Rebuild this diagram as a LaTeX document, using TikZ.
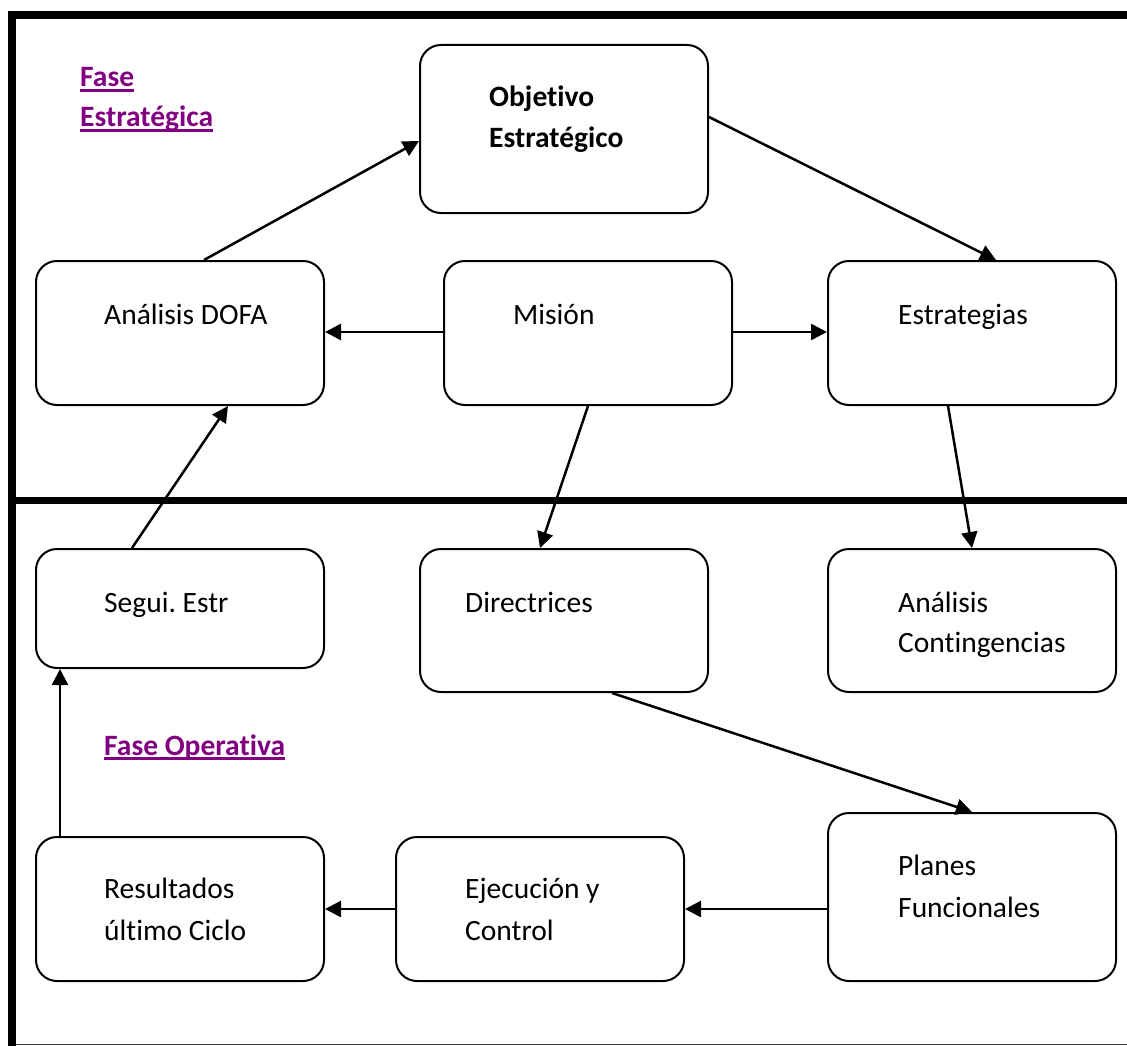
\documentclass[tikz,border=0pt]{standalone}
\usepackage{fontspec}
\setmainfont{Carlito}[Ligatures={NoCommon}]
\usetikzlibrary{arrows.meta}
\definecolor{fasecol}{HTML}{800080}
\frenchspacing
\begin{document}
\begin{tikzpicture}[x=1pt,y=-1pt,
  box/.style={draw=black, line width=2pt, rounded corners=21pt, inner sep=0pt},
  txt/.style={anchor=base west, inner sep=0pt, font=\fontsize{29.5}{41}\selectfont},
  btxt/.style={txt, font=\fontsize{29.5}{41}\selectfont\bfseries},
  fase/.style={anchor=base west, inner sep=0pt, text=fasecol, font=\fontsize{29.5}{41}\selectfont\bfseries},
  uline/.style={draw=fasecol, line width=2.2pt},
  arr/.style={draw=black, line width=2.5pt, -{Triangle[length=16pt,width=16pt]}}]
\useasboundingbox (0,0) rectangle (1127,1046);
% frame lines
\draw[line width=8pt, line join=miter] (12,1046) -- (12,15) -- (1127,15);
\draw[line width=7pt] (12,500.5) -- (1127,500.5);
\draw[draw=black!75, line width=1.2pt] (16,1044.5) -- (1127,1044.5);
% boxes
\node[box, minimum width=288pt, minimum height=168pt] (obj) at (564,129) {};
\node[box, minimum width=288pt, minimum height=144pt] (dofa) at (180,333) {};
\node[box, minimum width=288pt, minimum height=144pt] (mision) at (588,333) {};
\node[box, minimum width=288pt, minimum height=144pt] (estr) at (972,333) {};
\node[box, minimum width=288pt, minimum height=119pt] (segui) at (180,608.5) {};
\node[box, minimum width=288pt, minimum height=143pt] (direc) at (564,620.5) {};
\node[box, minimum width=288pt, minimum height=143pt] (conting) at (972,620.5) {};
\node[box, minimum width=288pt, minimum height=168pt] (planes) at (972,897) {};
\node[box, minimum width=288pt, minimum height=144pt] (ejec) at (540,909) {};
\node[box, minimum width=288pt, minimum height=144pt] (result) at (180,909) {};
% texts
\node[btxt] (t-obj1) at (489,107) {Objetivo};
\node[btxt] (t-obj2) at (489,148) {Estratégico};
\node[txt] (t-dofa) at (104,324) {Análisis DOFA};
\node[txt] (t-mision) at (513,324) {Misión};
\node[txt] (t-estr) at (898,324) {Estrategias};
\node[txt] (t-segui) at (104,612) {Segui. Estr};
\node[txt] (t-direc) at (465,612) {Directrices};
\node[txt] (t-cont1) at (898,612) {Análisis};
\node[txt] (t-cont2) at (898,652) {Contingencias};
\node[txt] (t-plan1) at (898,875) {Planes};
\node[txt] (t-plan2) at (898,917) {Funcionales};
\node[txt] (t-ejec1) at (465,898) {Ejecución y};
\node[txt] (t-ejec2) at (465,940) {Control};
\node[txt] (t-res1) at (104,898) {Resultados};
\node[txt] (t-res2) at (104,940) {último Ciclo};
% phase labels
\node[fase] (fe1) at (80,87) {Fase};
\node[fase] (fe2) at (80,127) {Estratégica};
\node[fase] (fo) at (104,755) {Fase Operativa};
\draw[uline] ([yshift=-3.5pt]fe1.base west) -- ([yshift=-3.5pt]fe1.base east);
\draw[uline] ([yshift=-3.5pt]fe2.base west) -- ([yshift=-3.5pt]fe2.base east);
\draw[uline] ([yshift=-3.5pt]fo.base west) -- ([yshift=-3.5pt]fo.base east);
% connectors
\draw[arr] ([xshift=24pt]dofa.north) -- ([yshift=-12pt]obj.west);
\draw[arr] ([yshift=12pt]obj.east) -- ([xshift=24pt]estr.north);
\draw[arr] ([yshift=1pt]mision.west) -- ([yshift=1pt]dofa.east);
\draw[arr] ([yshift=1pt]mision.east) -- ([yshift=1pt]estr.west);
\draw[arr] (mision.south) -- ([xshift=-24pt]direc.north);
\draw[arr] ([xshift=-24pt]estr.south) -- (conting.north);
\draw[arr] ([xshift=-48pt]segui.north) -- ([xshift=48pt]dofa.south);
\draw[arr] ([xshift=48pt]direc.south) -- (planes.north);
\draw[arr] ([yshift=-12pt]planes.west) -- (ejec.east);
\draw[arr] (ejec.west) -- (result.east);
\draw[arr] ([xshift=-120pt]result.north) -- ([xshift=-120pt]segui.south);
\end{tikzpicture}
\end{document}
